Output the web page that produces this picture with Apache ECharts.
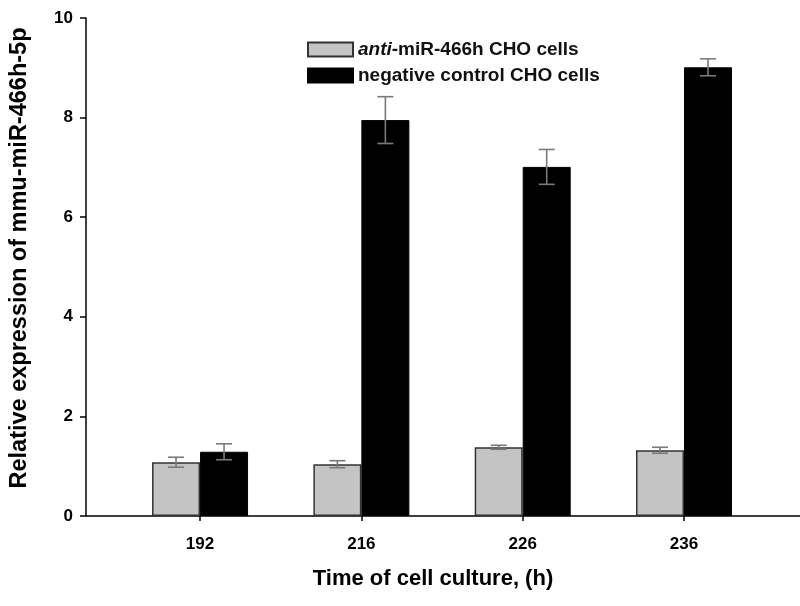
<!DOCTYPE html>
<html>
<head>
<meta charset="utf-8">
<script src="https://cdn.jsdelivr.net/npm/echarts@6/dist/echarts.min.js"></script>
<style>
html,body{margin:0;padding:0;background:#fff;}
#chart{width:800px;height:606px;}
</style>
</head>
<body>
<div id="chart"></div>
<script>
const categories = ['192', '216', '226', '236'];
const antiValues = [1.08, 1.04, 1.38, 1.32];
const antiErrors = [0.10, 0.07, 0.04, 0.06];
const controlValues = [1.29, 7.95, 7.01, 9.01];
const controlErrors = [0.16, 0.47, 0.35, 0.17];
const seriesNames = ['anti-miR-466h CHO cells', 'negative control CHO cells'];

const FONT = '"Liberation Sans", Arial, sans-serif';
const BAR_W = 48;
const idx = categories.map((c, i) => i);

function errorSeries(values, errors, offset) {
  return {
    type: 'custom',
    silent: true,
    z: 10,
    data: idx.map(i => [i, values[i], errors[i]]),
    renderItem: function (params, api) {
      const x = api.value(0), v = api.value(1), e = api.value(2);
      const top = api.coord([x, v + e]);
      const bot = api.coord([x, v - e]);
      const cx = top[0] + offset;
      const cap = 8;
      const style = { stroke: '#7a7a7a', lineWidth: 1.6, fill: null };
      return {
        type: 'group',
        children: [
          { type: 'line', shape: { x1: cx, y1: top[1], x2: cx, y2: bot[1] }, style: style },
          { type: 'line', shape: { x1: cx - cap, y1: top[1], x2: cx + cap, y2: top[1] }, style: style },
          { type: 'line', shape: { x1: cx - cap, y1: bot[1], x2: cx + cap, y2: bot[1] }, style: style }
        ]
      };
    }
  };
}

const chart = echarts.init(document.getElementById('chart'), null, { renderer: 'canvas' });
chart.setOption({
  animation: false,
  backgroundColor: '#ffffff',
  grid: { left: 86, right: 0, top: 18, bottom: 90 },
  legend: {
    orient: 'vertical',
    left: 302,
    top: 35,
    itemWidth: 45,
    itemHeight: 14,
    itemGap: 7,
    icon: 'rect',
    data: seriesNames,
    formatter: function (name) {
      if (name.indexOf('anti-') === 0) return '{i|anti}-miR-466h CHO cells';
      return name;
    },
    textStyle: {
      fontFamily: FONT, fontSize: 19, fontWeight: 'bold', color: '#111', lineHeight: 18,
      rich: { i: { fontStyle: 'italic', fontWeight: 'bold', fontFamily: FONT, fontSize: 19, color: '#111' } }
    }
  },
  xAxis: {
    type: 'value',
    min: -0.707,
    max: 3.719,
    splitLine: { show: false },
    axisLine: { show: true, onZero: false, lineStyle: { color: '#000', width: 1.5 } },
    axisTick: { show: true, customValues: idx, length: 5, lineStyle: { color: '#000', width: 1.5 } },
    axisLabel: {
      customValues: idx,
      formatter: v => categories[Math.round(v)],
      fontFamily: FONT, fontWeight: 'bold', fontSize: 17, color: '#000', margin: 20
    },
    name: 'Time of cell culture, (h)',
    nameLocation: 'middle',
    nameGap: 52,
    nameTextStyle: { fontFamily: FONT, fontWeight: 'bold', fontSize: 22, color: '#000', padding: [0, 20, 0, 0] }
  },
  yAxis: {
    type: 'value',
    min: 0,
    max: 10,
    interval: 2,
    splitLine: { show: false },
    axisLine: { show: true, onZero: false, lineStyle: { color: '#000', width: 1.5 } },
    axisTick: { show: true, inside: false, length: 6, lineStyle: { color: '#000', width: 1.5 } },
    axisLabel: { fontFamily: FONT, fontWeight: 'bold', fontSize: 17, color: '#000', margin: 13 },
    name: 'Relative expression of mmu-miR-466h-5p',
    nameLocation: 'middle',
    nameGap: 54,
    nameTextStyle: { fontFamily: FONT, fontWeight: 'bold', fontSize: 23.5, color: '#000', padding: [0, 0, 0, 18] }
  },
  series: [
    {
      name: seriesNames[0],
      type: 'bar',
      barWidth: BAR_W,
      barGap: '0%',
      data: idx.map(i => [i, antiValues[i]]),
      itemStyle: { color: '#c4c4c4', borderColor: '#333', borderWidth: 1.5 }
    },
    {
      name: seriesNames[1],
      type: 'bar',
      barWidth: BAR_W,
      barGap: '0%',
      data: idx.map(i => [i, controlValues[i]]),
      itemStyle: { color: '#000', borderColor: '#000', borderWidth: 1 }
    },
    errorSeries(antiValues, antiErrors, -BAR_W / 2),
    errorSeries(controlValues, controlErrors, BAR_W / 2)
  ]
});
</script>
</body>
</html>
